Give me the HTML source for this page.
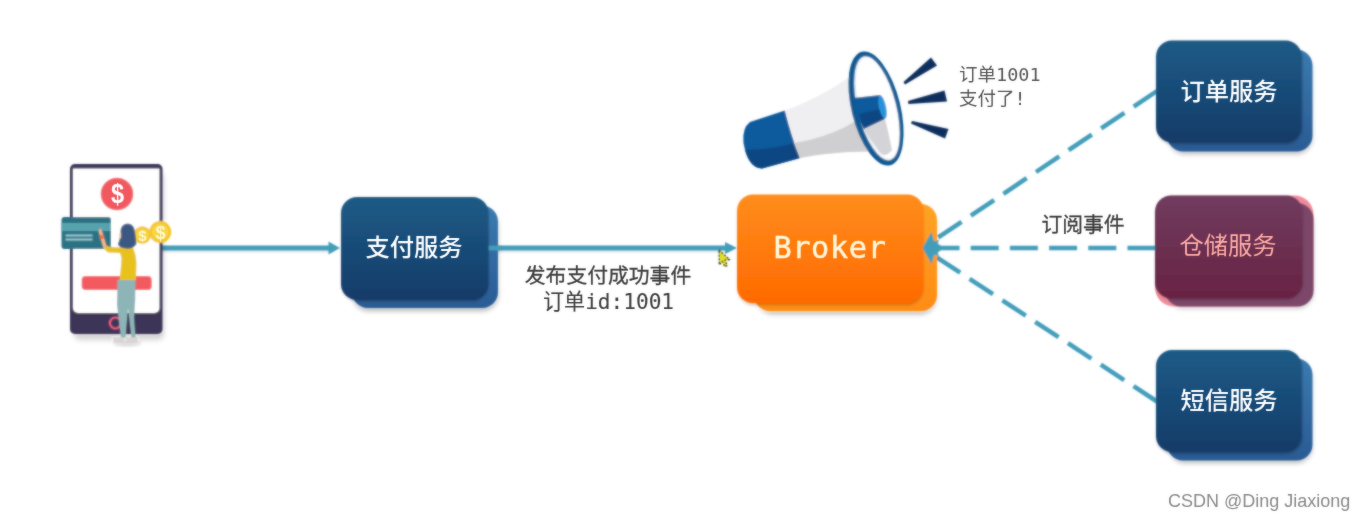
<!DOCTYPE html>
<html lang="zh">
<head>
<meta charset="utf-8">
<title>Broker</title>
<style>
html,body{margin:0;padding:0;background:#fff;}
body{width:1365px;height:520px;overflow:hidden;position:relative;}
svg{position:absolute;left:0;top:0;display:block;}
.cn{font-family:"Liberation Sans","Noto Sans CJK SC",sans-serif;}
.bx{font-weight:500;}
.mono{font-family:"DejaVu Sans Mono","Liberation Mono","Noto Sans CJK SC",monospace;}
</style>
</head>
<body>
<svg width="1365" height="520" viewBox="0 0 1365 520">
<defs>
  <linearGradient id="gBlue" x1="0" y1="0" x2="0" y2="1">
    <stop offset="0" stop-color="#1c5b86"/>
    <stop offset="1" stop-color="#163b69"/>
  </linearGradient>
  <linearGradient id="gBack" x1="0" y1="0" x2="0" y2="1">
    <stop offset="0" stop-color="#3a7bb0"/>
    <stop offset="1" stop-color="#2a5b94"/>
  </linearGradient>
  <linearGradient id="gOrB" x1="0" y1="0" x2="0" y2="1">
    <stop offset="0" stop-color="#ffa325"/>
    <stop offset="1" stop-color="#ff8c14"/>
  </linearGradient>
  <linearGradient id="gRed" x1="0" y1="0" x2="0" y2="1">
    <stop offset="0" stop-color="#703c5e"/>
    <stop offset="1" stop-color="#692343"/>
  </linearGradient>
  <linearGradient id="gOr" x1="0" y1="0" x2="0" y2="1">
    <stop offset="0" stop-color="#ff8d1c"/>
    <stop offset="1" stop-color="#ff6a00"/>
  </linearGradient>
  <filter id="sh" filterUnits="userSpaceOnUse" x="0" y="0" width="1365" height="520">
    <feGaussianBlur stdDeviation="2.5"/>
  </filter>
  <filter id="sh1" filterUnits="userSpaceOnUse" x="0" y="0" width="1365" height="520">
    <feGaussianBlur stdDeviation="1.500"/>
  </filter>
  <filter id="blurS" filterUnits="userSpaceOnUse" x="0" y="0" width="1365" height="520">
    <feGaussianBlur stdDeviation="0.8" result="b"/>
    <feComposite in="SourceGraphic" in2="b" operator="arithmetic" k1="0" k2="0.35" k3="0.65" k4="0"/>
  </filter>
  <filter id="blurT" filterUnits="userSpaceOnUse" x="0" y="0" width="1365" height="520">
    <feGaussianBlur stdDeviation="0.8" result="b"/>
    <feComposite in="SourceGraphic" in2="b" operator="arithmetic" k1="0" k2="0.7" k3="0.3" k4="0"/>
  </filter>
</defs>
<rect width="1365" height="520" fill="#ffffff"/>
<g id="shapes" filter="url(#blurS)">

<g id="lines">
  <g stroke="#9aa0a6" stroke-width="3.5" opacity="0.35" transform="translate(0,2)" filter="url(#sh1)">
    <line x1="160" y1="248" x2="332" y2="248"/>
    <line x1="488" y1="248" x2="728" y2="248"/>
  </g>
  <line x1="160" y1="248" x2="332" y2="248" stroke="#439dba" stroke-width="4.800"/>
  <polygon points="328.500,241.500 340,248 328.500,254.500" fill="#439dba"/>
  <line x1="488" y1="248" x2="728" y2="248" stroke="#439dba" stroke-width="4.800"/>
  <polygon points="725,242 737,248 725,254" fill="#439dba"/>
  <g stroke="#439dba" stroke-width="4.500" stroke-dasharray="28 11.200" fill="none">
    <line x1="1157" y1="91" x2="931" y2="242.300"/>
    <line x1="1155.500" y1="248" x2="931" y2="248"/>
    <line x1="1157" y1="401.500" x2="931" y2="253.600"/>
  </g>
</g>


<g id="phone">
  <rect x="74" y="172" width="90" height="168" rx="6" fill="#000" opacity="0.17" filter="url(#sh)"/>
  <ellipse cx="127" cy="343" rx="14" ry="3" fill="#000" opacity="0.18" filter="url(#sh1)"/>
  <g>
  <rect x="70" y="164" width="92.500" height="170" rx="5" fill="#3c3458"/>
  <path d="M73,168.500 H159.500 V308 a5 5 0 0 1 -5 5 H78 a5 5 0 0 1 -5 -5 Z" fill="#ffffff"/>
  <circle cx="117" cy="194" r="16.300" fill="#f1595e"/>
  <rect x="81.700" y="276" width="70" height="14" rx="4" fill="#f35a61"/>
  <circle cx="115.400" cy="323" r="5.500" fill="none" stroke="#ee5f7c" stroke-width="2"/>
  <!-- card -->
  <rect x="61.500" y="217" width="49.500" height="32" rx="3" fill="#2b7283"/>
  <rect x="61.500" y="223" width="49.500" height="8" fill="#57a3ae"/>
  <rect x="65.500" y="234.500" width="27" height="2" fill="#9cc9cf"/>
  <rect x="65.500" y="238.500" width="27" height="2" fill="#9cc9cf"/>
  <!-- coins -->
  <circle cx="142.300" cy="235" r="8.700" fill="#f5c52b"/>
  <circle cx="142.300" cy="235" r="6.300" fill="#f9d647"/>
  <circle cx="160.200" cy="232" r="11" fill="#f5c52b"/>
  <circle cx="160.200" cy="232" r="8.200" fill="#f9d647"/>
  <!-- girl -->
  <path d="M117.500,280 L135.500,280 L135.200,300 L134,318 L135.500,337.500 L131.500,337.500 L128,308 L125.500,337.500 L121,337.500 L117,305 Z" fill="#8db4b6"/>
  <path d="M113.500,337.500 h10 v5 h-10 z M126.500,337.500 h11 v5 h-11 z" fill="#d9d4d2"/>
  <path d="M121,247.500 L133,247 Q136,254 136.500,263 L136,280 L119.500,280 Q121,268 121.500,258 L120,253 L108,252.500 L103.500,248.500 L105.500,245.500 L111,247 Z" fill="#e9c11c"/>
  <path d="M103.500,248.500 L98.500,231 L100.500,228 L102.500,232.500 L106.500,246 Z" fill="#f3b58f"/>
  <circle cx="101.800" cy="237" r="2.200" fill="#f0733e"/>
  <path d="M120.500,231 Q121,223.500 128,223.500 Q134.500,224 135,232 L136.500,244 Q133,249.500 126,248.500 Q119,248 117.800,244 Q120,240 120.500,231 Z" fill="#3a5983"/>
  <path d="M119.800,232.500 Q118.500,235 119.300,238.500 L121,238.500 L121,232.500 Z" fill="#f6c7a8"/>
  </g>
</g>

<g id="mega">
  <!-- handle -->
  <path d="M750,122 L785,110.500 Q791,135 800,158 L762,168.500 Q748,168 743.500,143 Q742,128 750,122 Z" fill="#0c5a9c"/>
  <path d="M745,150 Q770,150 794,143 Q797,151 800,158 L762,168.500 Q750,168 745,150 Z" fill="#0a4683"/>
  <!-- body -->
  <path d="M785,110.500 Q820,98 849,77 L882,152 Q840,150 800,158 Q791,135 785,110.500 Z" fill="#efeff1"/>
  <path d="M794,143 Q835,136 860,118 L882,152 Q840,150 800,158 Q797,151 794,143 Z" fill="#cfcfd2"/>
  <!-- horn ring -->
  <g transform="translate(876,108.500) rotate(-14)">
    <ellipse cx="0" cy="0" rx="24.400" ry="58.500" fill="#0f5a92"/>
    <ellipse cx="1" cy="0" rx="19.500" ry="53.500" fill="#dfeaf3"/>
    <ellipse cx="1.500" cy="0" rx="18" ry="52" fill="#ffffff"/>
  </g>
  <!-- inner -->
  <path d="M853,98 L880,95 Q886,107 885,119 L864,129 Q856,115 853,98 Z" fill="#0c5a9c"/>
  <path d="M859,114 L884,108 Q886,113 885,119 L864,129 Q861,122 859,114 Z" fill="#0a4683"/>
  <ellipse cx="882.500" cy="107" rx="3.500" ry="12" transform="rotate(-12 882.500 107)" fill="#2592dc"/>
  <path d="M864,129 L885,119 Q888,130 892,150 Q884,160 878,150 Q870,140 864,129 Z" fill="#d4d4d8"/>
  <!-- sound wedges -->
  <polygon points="903.500,82 931,57.500 937,65.500 905,84.500" fill="#0b2e5d"/>
  <polygon points="908,101 944.500,90.500 947,101.500 908.500,104" fill="#0b2e5d"/>
  <polygon points="912,121 948.500,129 945,138.500 911,123.500" fill="#0b2e5d"/>
</g>

<g id="pay">
  <rect x="353" y="211" width="145" height="100" rx="16" fill="#000" opacity="0.28" filter="url(#sh)"/>
  <rect x="352" y="205.500" width="146" height="102.500" rx="16" fill="url(#gBack)"/>
  <line x1="486" y1="248" x2="500" y2="248" stroke="#439dba" stroke-width="4.800"/>
  <rect x="342" y="199" width="146" height="102" rx="16" fill="#000" opacity="0.3" filter="url(#sh1)"/>
  <rect x="341" y="197" width="147.500" height="103" rx="16" fill="url(#gBlue)"/>
</g>

<g id="broker">
  <rect x="757" y="211" width="179" height="103" rx="16" fill="#000" opacity="0.28" filter="url(#sh)"/>
  <rect x="754" y="204" width="183" height="107" rx="16" fill="url(#gOrB)"/>
  <rect x="738" y="197" width="185" height="108" rx="16" fill="#7a3a00" opacity="0.35" filter="url(#sh1)"/>
  <rect x="737" y="194.500" width="186.500" height="108.500" rx="16" fill="url(#gOr)"/>
</g>
<g id="heads" fill="#439dba">
  <polygon points="922.500,248 939,239.500 936,248 939,256.500"/>
  <polygon points="922.500,248 939,239.500 936,248 939,256.500" transform="rotate(-33.800 922.500 248)"/>
  <polygon points="922.500,248 939,239.500 936,248 939,256.500" transform="rotate(33.200 922.500 248)"/>
</g>
<line x1="930" y1="248" x2="941" y2="248" stroke="#439dba" stroke-width="4.500"/>
<g id="cursor">
  <path d="M719,250 L729.500,259.500 L725,260.200 L727.300,265.500 L724.800,266.700 L722.300,261.500 L719.300,264.800 Z" fill="#e2e02c" stroke="#111" stroke-width="1.300" stroke-dasharray="2 1.500" stroke-linejoin="round"/>
</g>

<g id="order">
  <rect x="1169" y="55" width="143" height="99" rx="16" fill="#000" opacity="0.28" filter="url(#sh)"/>
  <rect x="1167" y="49.500" width="145.500" height="102" rx="16" fill="url(#gBack)"/>
  <rect x="1157" y="42" width="145" height="102" rx="16" fill="#000" opacity="0.3" filter="url(#sh1)"/>
  <rect x="1156" y="40.500" width="145.500" height="102" rx="16" fill="url(#gBlue)"/>
</g>
<g id="store">
  <rect x="1167" y="209" width="146" height="99" rx="16" fill="#000" opacity="0.28" filter="url(#sh)"/>
  <rect x="1155" y="195.500" width="158.500" height="111" rx="19" fill="#f08b9c"/>
  <rect x="1165" y="203" width="148.500" height="103.500" rx="16" fill="#7b4669"/>
  <rect x="1156" y="198" width="146" height="101" rx="16" fill="#000" opacity="0.3" filter="url(#sh1)"/>
  <rect x="1155" y="195.500" width="147.500" height="103" rx="16" fill="url(#gRed)"/>
</g>
<g id="sms">
  <rect x="1169" y="364" width="143" height="99" rx="16" fill="#000" opacity="0.28" filter="url(#sh)"/>
  <rect x="1167" y="358.500" width="145.500" height="102" rx="16" fill="url(#gBack)"/>
  <rect x="1157" y="351.500" width="145" height="102" rx="16" fill="#000" opacity="0.3" filter="url(#sh1)"/>
  <rect x="1156" y="350" width="145.500" height="102" rx="16" fill="url(#gBlue)"/>
</g>

</g>
<g id="texts" filter="url(#blurT)">
  <text transform="translate(117.500 203.100) scale(0.84 1)" x="0" y="0" font-size="28" font-weight="bold" fill="#ffffff" text-anchor="middle" font-family="'Liberation Sans',sans-serif">$</text>
  <text x="142.500" y="240.500" font-size="15" font-weight="bold" fill="#fff7c8" text-anchor="middle" font-family="'Liberation Sans',sans-serif">$</text>
  <text x="160.500" y="238.500" font-size="18" font-weight="bold" fill="#fff7c8" text-anchor="middle" font-family="'Liberation Sans',sans-serif">$</text>
  <text class="cn bx" x="414" y="256" font-size="24.300" fill="#fff" text-anchor="middle">支付服务</text>
  <text class="mono" x="830" y="257.800" font-size="30.200" letter-spacing="0.700" fill="#fff6da" stroke="#fff6da" stroke-width="0.450" text-anchor="middle">Broker</text>
  <text class="cn bx" x="1229" y="100" font-size="24.300" fill="#fff" text-anchor="middle">订单服务</text>
  <text class="cn" x="1228" y="254" font-size="24.300" fill="#ffada6" text-anchor="middle">仓储服务</text>
  <text class="cn bx" x="1229" y="409" font-size="24.300" fill="#fff" text-anchor="middle">短信服务</text>
  <text class="cn" x="608" y="283.300" font-size="20.800" text-anchor="middle" fill="#3e3e3e" stroke="#3e3e3e" stroke-width="0.300">发布支付成功事件</text>
  <text class="mono" x="608.500" y="308.500" font-size="21.100" text-anchor="middle" fill="#3e3e3e" stroke="#3e3e3e" stroke-width="0.100">订单id:1001</text>
  <text class="cn" x="1083" y="232" font-size="20.800" text-anchor="middle" fill="#3e3e3e" stroke="#3e3e3e" stroke-width="0.300">订阅事件</text>
  <text class="mono" x="959" y="81" font-size="18.500" fill="#555555" stroke="none">订单1001</text>
  <text class="mono" x="959" y="105" font-size="18.500" fill="#555555" stroke="none">支付了!</text>
  <text x="1168" y="507" font-size="18" fill="#8a8a8a" font-family="'Liberation Sans',sans-serif">CSDN @Ding Jiaxiong</text>
</g>
</svg>
</body>
</html>
